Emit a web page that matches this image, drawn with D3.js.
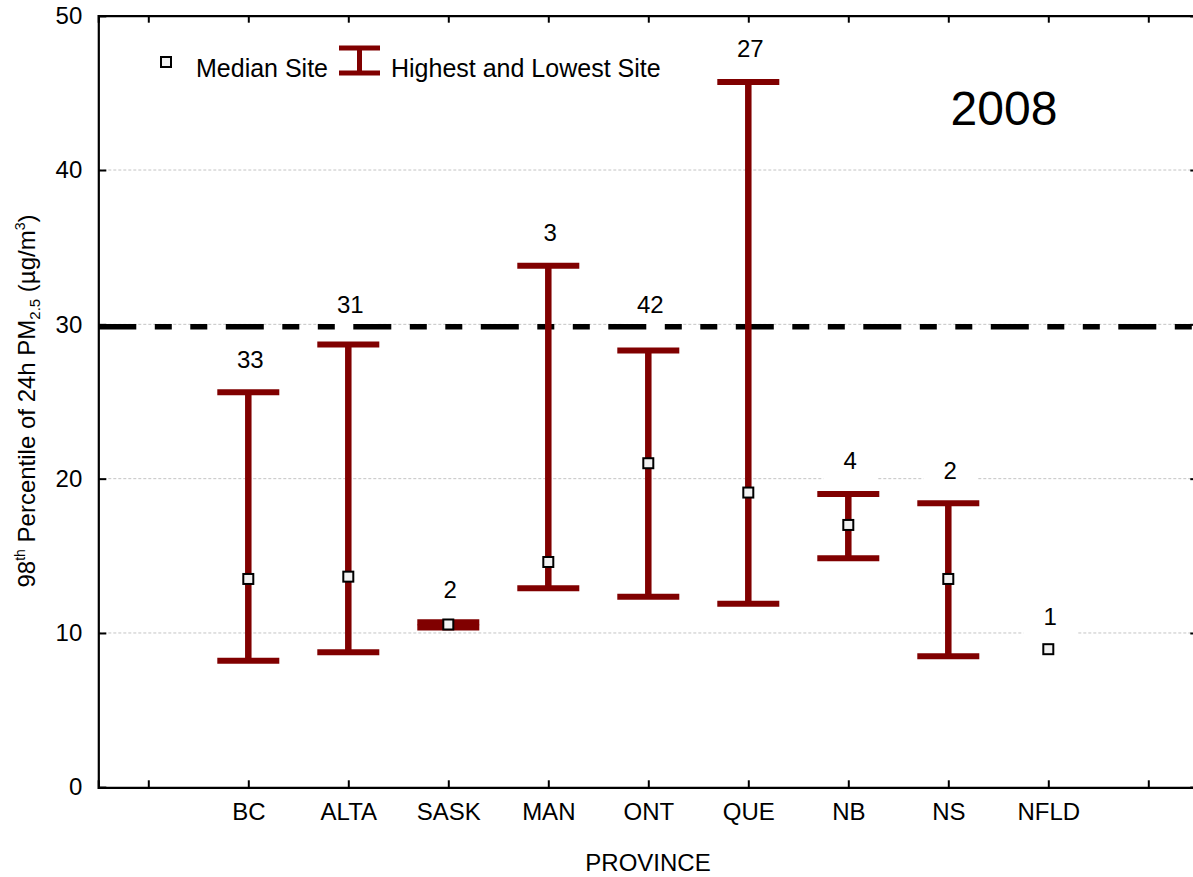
<!DOCTYPE html>
<html>
<head>
<meta charset="utf-8">
<script src="https://cdn.jsdelivr.net/npm/d3@7"></script>
<style>
  html, body { margin: 0; padding: 0; background: #fff; }
  svg { display: block; font-family: "Liberation Sans", Arial, sans-serif; }
</style>
</head>
<body>
<svg id="chart" width="1193" height="877"></svg>
<script>
// Provinces along the x axis
const categories = ["BC", "ALTA", "SASK", "MAN", "ONT", "QUE", "NB", "NS", "NFLD"];
// 98th percentile of 24h PM2.5 (µg/m³): highest site, median site, lowest site
const highest = [25.6, 28.7, 10.7, 33.8, 28.3, 45.7, 19.0, 18.4, null];
const median  = [13.5, 13.65, 10.55, 14.6, 21.0, 19.1, 17.0, 13.5, 8.95];
const lowest  = [8.2, 8.75, 10.35, 12.9, 12.35, 11.9, 14.85, 8.5, null];
// Number of monitoring sites per province
const siteCounts = [33, 31, 2, 3, 42, 27, 4, 2, 1];
// Y axis tick values and the standard reference level
const yTicks = [0, 10, 20, 30, 40, 50];
const standardLevel = 29.85;
const yearLabel = "2008";

const svg = d3.select("#chart");
const darkRed = "#800000";

const x = d3.scaleLinear().domain([-0.5, 10.5]).range([98.3, 1198.3]);
const y = d3.scaleLinear().domain([0, 50]).range([787.3, 15.7]);
const xPos = i => x(i + 1);

// Horizontal grid lines
svg.append("g")
  .selectAll("line")
  .data(yTicks.filter(t => t > 0 && t < 50))
  .join("line")
  .attr("x1", x(-0.5)).attr("x2", x(10.5))
  .attr("y1", d => y(d)).attr("y2", d => y(d))
  .attr("stroke", "#c4c4c4").attr("stroke-width", 1)
  .attr("stroke-dasharray", "3,2");

// Site-count labels sit above each bar; ones that would land on the
// standard line are lifted just above it.
const labelY = i => {
  const top = y(highest[i] != null ? highest[i] : median[i]);
  let ly = top - 33;
  const sy = y(standardLevel);
  if (Math.abs(ly - sy) < 24) ly = sy - 22;
  return ly;
};

// White boxes behind the site-count labels
svg.append("g")
  .selectAll("rect")
  .data(siteCounts)
  .join("rect")
  .attr("x", (d, i) => xPos(i) + 2 - 27)
  .attr("y", (d, i) => labelY(i) - 28)
  .attr("width", 54)
  .attr("height", 56)
  .attr("fill", "#fff");

// Standard reference line
svg.append("line")
  .attr("x1", x(-0.5)).attr("x2", x(10.5))
  .attr("y1", y(standardLevel)).attr("y2", y(standardLevel))
  .attr("stroke", "#000").attr("stroke-width", 5.5)
  .attr("stroke-dasharray", "38,18.5,17,18.5,17,18.5");

// Axes
const axisG = svg.append("g").attr("class", "axes");
const yAxisL = d3.axisLeft(y).tickValues(yTicks).tickSize(-8).tickPadding(16).tickFormat(d3.format("d"));
const yAxisR = d3.axisRight(y).tickValues(yTicks).tickSize(-8).tickFormat("");
const xAxisB = d3.axisBottom(x).tickValues(d3.range(11)).tickSize(-7).tickPadding(16)
  .tickFormat(i => categories[i - 1] || "");
const xAxisT = d3.axisTop(x).tickValues(d3.range(11)).tickSize(-7).tickFormat("");

function styleAxis(g) {
  g.select(".domain").attr("stroke", "#000").attr("stroke-width", 2.2);
  g.selectAll(".tick line").attr("stroke", "#000").attr("stroke-width", 2);
  g.selectAll(".tick text").attr("fill", "#000").attr("font-size", 24)
    .attr("font-family", "'Liberation Sans', Arial, sans-serif");
}
axisG.append("g").attr("transform", `translate(${x(-0.5)},0)`).call(yAxisL).call(styleAxis);
axisG.append("g").attr("transform", `translate(${x(10.5)},0)`).call(yAxisR).call(styleAxis);
axisG.append("g").attr("transform", `translate(0,${y(0)})`).call(xAxisB).call(styleAxis);
axisG.append("g").attr("transform", `translate(0,${y(50)})`).call(xAxisT).call(styleAxis);

// Error bars: highest and lowest site
const capHalf = 31;
const bars = svg.append("g");
categories.forEach((c, i) => {
  if (highest[i] == null || lowest[i] == null) return;
  const cx = xPos(i);
  bars.append("line")
    .attr("x1", cx).attr("x2", cx)
    .attr("y1", y(highest[i])).attr("y2", y(lowest[i]))
    .attr("stroke", darkRed).attr("stroke-width", 6.5);
  [highest[i], lowest[i]].forEach(v => {
    bars.append("line")
      .attr("x1", cx - capHalf).attr("x2", cx + capHalf)
      .attr("y1", y(v)).attr("y2", y(v))
      .attr("stroke", darkRed).attr("stroke-width", 6);
  });
});

// Median site markers
svg.append("g")
  .selectAll("rect")
  .data(median)
  .join("rect")
  .attr("x", (d, i) => xPos(i) - 5)
  .attr("y", d => y(d) - 5)
  .attr("width", 10).attr("height", 10)
  .attr("fill", "#f2f2f2").attr("stroke", "#000").attr("stroke-width", 2);

// Site-count labels
svg.append("g")
  .selectAll("text")
  .data(siteCounts)
  .join("text")
  .attr("x", (d, i) => xPos(i) + 2)
  .attr("y", (d, i) => labelY(i))
  .attr("dy", "0.35em")
  .attr("text-anchor", "middle")
  .attr("font-size", 24)
  .text(d => d);

// Legend
const legend = svg.append("g");
legend.append("rect")
  .attr("x", 161).attr("y", 57).attr("width", 10).attr("height", 10)
  .attr("fill", "#f2f2f2").attr("stroke", "#000").attr("stroke-width", 2);
legend.append("text").attr("x", 196).attr("y", 77).attr("font-size", 25).text("Median Site");
legend.append("line").attr("x1", 359.5).attr("x2", 359.5).attr("y1", 48).attr("y2", 73)
  .attr("stroke", darkRed).attr("stroke-width", 5);
[48, 73].forEach(v => legend.append("line").attr("x1", 339).attr("x2", 380).attr("y1", v).attr("y2", v)
  .attr("stroke", darkRed).attr("stroke-width", 5));
legend.append("text").attr("x", 391).attr("y", 77).attr("font-size", 25).text("Highest and Lowest Site");

// Year label
svg.append("text").attr("x", 1004).attr("y", 125).attr("text-anchor", "middle")
  .attr("font-size", 48).text(yearLabel);

// X axis title
svg.append("text").attr("x", 648).attr("y", 871).attr("text-anchor", "middle")
  .attr("font-size", 24).text("PROVINCE");

// Y axis title
const yt = svg.append("text")
  .attr("transform", "translate(35,401) rotate(-90)")
  .attr("text-anchor", "middle")
  .attr("font-size", 24);
yt.append("tspan").text("98");
yt.append("tspan").attr("font-size", 14).attr("dy", -10).text("th");
yt.append("tspan").attr("dy", 10).text(" Percentile of 24h PM");
yt.append("tspan").attr("font-size", 15).attr("dy", 5).text("2.5");
yt.append("tspan").attr("dy", -5).text(" (µg/m");
yt.append("tspan").attr("font-size", 14).attr("dy", -10).text("3");
yt.append("tspan").attr("dy", 10).text(")");
</script>
</body>
</html>
